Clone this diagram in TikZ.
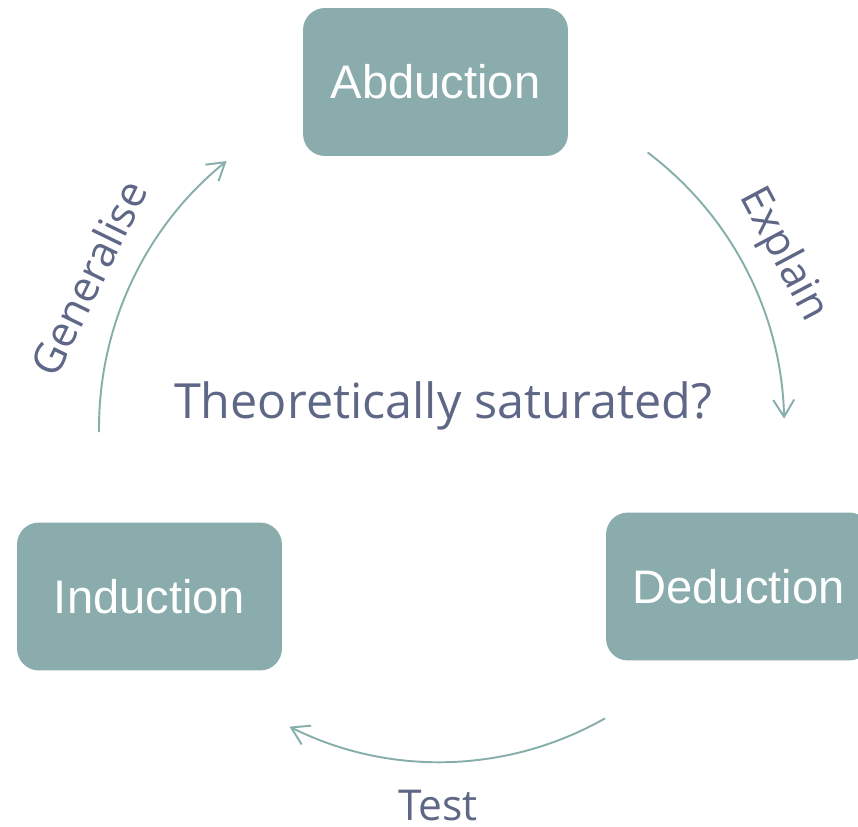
\documentclass[tikz,border=0pt]{standalone}
\usepackage{fontspec}
\usepackage{tikz}
\usetikzlibrary{arrows.meta}
\setmainfont{Open Sans}
\newfontfamily\boxfont{Liberation Sans}
\definecolor{boxteal}{HTML}{8BACAD}
\definecolor{labelslate}{HTML}{5F6787}
\definecolor{arcteal}{HTML}{86AEAA}

\tikzset{
  stage/.style={fill=boxteal, rounded corners=0.44cm, minimum width=5.3cm,
    minimum height=2.96cm, text=white, font=\boxfont\fontsize{26.8}{30}\selectfont},
  cyc/.style={arcteal, line width=1.1pt, -{Straight Barb[length=3.4mm,width=4.2mm]}},
  verb/.style={text=labelslate, font=\fontsize{24.2}{27}\selectfont}
}

\begin{document}
\begin{tikzpicture}[x=0.02cm, y=-0.02cm]
\clip (0,0) rectangle (858,827);

\node[stage] (abd) at (435.5,82) {Abduction};
\node[stage] (ded) at (738.5,586.5) {Deduction};
\node[stage] (ind) at (149.5,596.5) {Induction};

\coordinate (hub) at (440,428);
\node[text=labelslate, font=\fontsize{27.6}{31}\selectfont, anchor=base] (sat) at (443,418) {Theoretically saturated?};

% the cycle
\draw[cyc] (hub) ++(179.3:341) arc[start angle=179.3, end angle=231.1, radius=343];
\draw[cyc] (hub) ++(-53:345) arc[start angle=-53, end angle=-1.3, radius=343];
\draw[cyc] (hub) ++(60.4:334) arc[start angle=60.4, end angle=116.6, radius=335];

\node[verb, rotate=64] (gen) at (88,278) {Generalise};
\node[verb, rotate=-62] (exp) at (783,255) {Explain};
\node[verb] (tst) at (438,806) {Test};

\end{tikzpicture}
\end{document}
